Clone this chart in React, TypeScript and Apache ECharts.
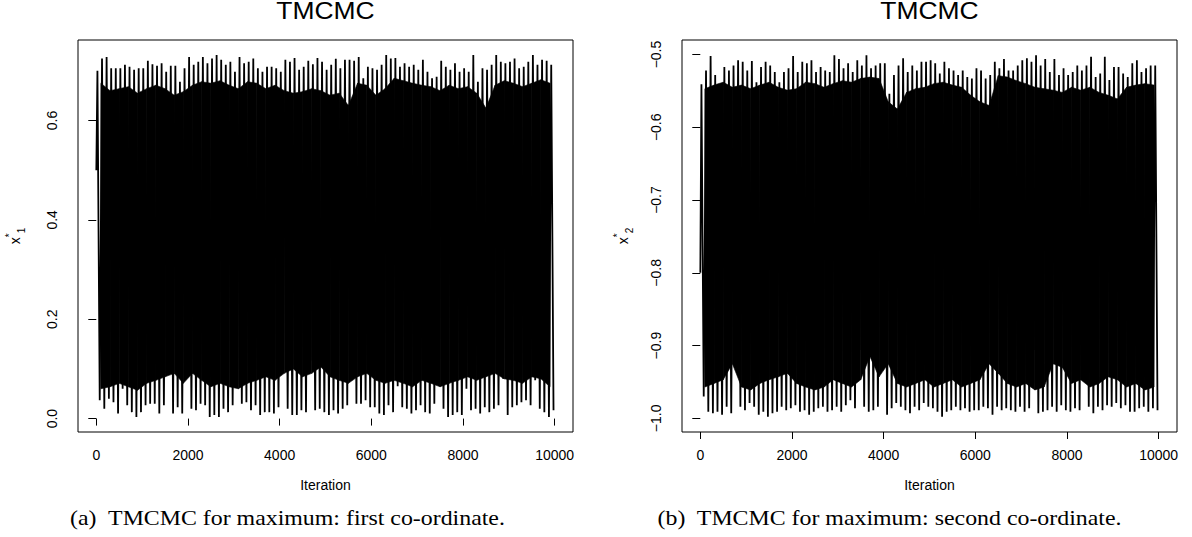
import { useEffect, useRef } from 'react';
import * as echarts from 'echarts';

// ---- data ----
const iterTicks = [0, 2000, 4000, 6000, 8000, 10000];
const leftYTicks = [0, 0.2, 0.4, 0.6];
const rightYTicks = [-1.0, -0.9, -0.8, -0.7, -0.6, -0.5];
const spikeBin = 100; // iterations per spike bin (upper / lower extremes)
const bodyBin = 200; // iterations per bin of the dense (solid) body

// first co-ordinate: starting value, per-bin upper spikes and lower spikes
const leftStart = 0.5;
const leftHigh = [
  0.700, 0.725, 0.728, 0.705, 0.705, 0.705, 0.712, 0.708, 0.702, 0.705,
  0.705, 0.720, 0.713, 0.710, 0.715, 0.698, 0.710, 0.710, 0.678, 0.705,
  0.728, 0.712, 0.718, 0.728, 0.715, 0.725, 0.732, 0.722, 0.712, 0.718,
  0.698, 0.728, 0.715, 0.718, 0.725, 0.705, 0.698, 0.708, 0.708, 0.705,
  0.698, 0.722, 0.718, 0.726, 0.702, 0.708, 0.720, 0.713, 0.726, 0.718,
  0.702, 0.712, 0.724, 0.705, 0.722, 0.722, 0.720, 0.728, 0.685, 0.708,
  0.705, 0.702, 0.712, 0.732, 0.725, 0.726, 0.708, 0.715, 0.708, 0.712,
  0.702, 0.722, 0.698, 0.685, 0.688, 0.720, 0.708, 0.702, 0.715, 0.698,
  0.705, 0.698, 0.732, 0.678, 0.705, 0.702, 0.712, 0.732, 0.718, 0.715,
  0.718, 0.725, 0.705, 0.708, 0.718, 0.732, 0.712, 0.722, 0.720, 0.712,
];
const leftLow = [
  0.037, 0.020, 0.040, 0.033, 0.010, 0.060, 0.027, 0.013, 0.003, 0.013,
  0.027, 0.030, 0.030, 0.010, 0.027, 0.091, 0.010, 0.023, 0.010, 0.097,
  0.020, 0.017, 0.030, 0.027, 0.003, 0.007, 0.003, 0.020, 0.013, 0.027,
  0.070, 0.030, 0.033, 0.017, 0.027, 0.007, 0.013, 0.013, 0.010, 0.023,
  0.107, 0.020, 0.007, 0.007, 0.017, 0.013, 0.117, 0.017, 0.020, 0.013,
  0.007, 0.017, 0.010, 0.020, 0.027, 0.084, 0.030, 0.030, 0.037, 0.023,
  0.023, 0.010, 0.007, 0.027, 0.013, 0.065, 0.023, 0.020, 0.010, 0.017,
  0.027, 0.013, 0.010, 0.030, 0.070, 0.020, 0.003, 0.007, 0.013, 0.007,
  0.060, 0.017, 0.020, 0.010, 0.023, 0.013, 0.020, 0.027, 0.080, 0.007,
  0.023, 0.027, 0.033, 0.037, 0.027, 0.077, 0.020, 0.013, 0.003, 0.017,
];
// upper and lower edges of the dense body of the first trace
const leftBodyTop = [
  0.675, 0.660, 0.664, 0.668, 0.655, 0.664, 0.671, 0.664, 0.651, 0.658,
  0.671, 0.678, 0.675, 0.680, 0.671, 0.664, 0.678, 0.675, 0.664, 0.671,
  0.660, 0.655, 0.658, 0.664, 0.660, 0.651, 0.655, 0.630, 0.675, 0.671,
  0.651, 0.664, 0.685, 0.680, 0.675, 0.671, 0.668, 0.660, 0.671, 0.664,
  0.668, 0.655, 0.625, 0.671, 0.680, 0.675, 0.668, 0.675, 0.682, 0.675,
];
const leftBodyBottom = [
  0.060, 0.064, 0.071, 0.064, 0.057, 0.071, 0.077, 0.084, 0.091, 0.071,
  0.091, 0.077, 0.064, 0.071, 0.064, 0.060, 0.071, 0.077, 0.084, 0.077,
  0.091, 0.100, 0.084, 0.091, 0.104, 0.084, 0.077, 0.071, 0.084, 0.091,
  0.077, 0.071, 0.077, 0.071, 0.064, 0.077, 0.071, 0.064, 0.071, 0.077,
  0.084, 0.077, 0.084, 0.091, 0.080, 0.077, 0.071, 0.084, 0.080, 0.064,
];

// second co-ordinate
const rightStart = -0.8;
const rightHigh = [
  -0.541, -0.522, -0.502, -0.528, -0.547, -0.517, -0.522, -0.515, -0.508, -0.510,
  -0.522, -0.509, -0.538, -0.517, -0.510, -0.515, -0.524, -0.538, -0.524, -0.519,
  -0.502, -0.524, -0.510, -0.512, -0.508, -0.524, -0.517, -0.522, -0.524, -0.501,
  -0.506, -0.519, -0.512, -0.524, -0.508, -0.515, -0.501, -0.519, -0.515, -0.512,
  -0.512, -0.554, -0.528, -0.515, -0.505, -0.524, -0.515, -0.522, -0.510, -0.510,
  -0.508, -0.512, -0.526, -0.510, -0.519, -0.522, -0.528, -0.522, -0.531, -0.533,
  -0.519, -0.522, -0.533, -0.528, -0.510, -0.519, -0.506, -0.522, -0.522, -0.515,
  -0.508, -0.505, -0.510, -0.501, -0.515, -0.506, -0.524, -0.506, -0.528, -0.519,
  -0.528, -0.524, -0.515, -0.522, -0.515, -0.503, -0.531, -0.526, -0.503, -0.535,
  -0.517, -0.517, -0.526, -0.531, -0.512, -0.508, -0.524, -0.519, -0.515, -0.515,
];
const rightLow = [
  -0.970, -0.991, -0.993, -0.991, -0.995, -0.984, -0.993, -0.911, -0.984, -0.989,
  -0.979, -0.984, -0.995, -0.991, -0.998, -0.993, -0.991, -0.984, -0.989, -0.986,
  -0.982, -0.991, -0.989, -0.995, -0.991, -0.986, -0.984, -0.991, -0.989, -0.984,
  -0.991, -0.982, -0.975, -0.986, -0.906, -0.984, -0.991, -0.989, -0.984, -0.931,
  -0.995, -0.986, -0.979, -0.984, -0.989, -0.993, -0.984, -0.989, -0.979, -0.984,
  -0.986, -0.991, -0.998, -0.991, -0.989, -0.984, -0.989, -0.986, -0.991, -0.989,
  -0.989, -0.984, -0.986, -0.995, -0.984, -0.989, -0.986, -0.989, -0.991, -0.984,
  -0.991, -0.986, -0.906, -0.993, -0.991, -0.989, -0.984, -0.991, -0.982, -0.989,
  -0.991, -0.986, -0.989, -0.940, -0.984, -0.993, -0.984, -0.989, -0.982, -0.984,
  -0.979, -0.986, -0.982, -0.991, -0.991, -0.986, -0.984, -0.991, -0.986, -0.989,
];
const rightBodyTop = [
  -0.547, -0.542, -0.538, -0.545, -0.542, -0.547, -0.542, -0.538, -0.545, -0.549,
  -0.547, -0.538, -0.540, -0.545, -0.540, -0.536, -0.538, -0.533, -0.531, -0.533,
  -0.565, -0.575, -0.552, -0.547, -0.545, -0.540, -0.538, -0.542, -0.545, -0.556,
  -0.565, -0.570, -0.529, -0.531, -0.536, -0.540, -0.545, -0.547, -0.549, -0.552,
  -0.545, -0.549, -0.545, -0.552, -0.556, -0.561, -0.545, -0.542, -0.540, -0.542,
];
const rightBodyBottom = [
  -0.957, -0.952, -0.947, -0.925, -0.957, -0.961, -0.952, -0.947, -0.943, -0.938,
  -0.952, -0.957, -0.961, -0.957, -0.947, -0.952, -0.957, -0.947, -0.915, -0.943,
  -0.925, -0.952, -0.957, -0.952, -0.947, -0.957, -0.952, -0.947, -0.957, -0.952,
  -0.947, -0.925, -0.938, -0.952, -0.957, -0.952, -0.961, -0.957, -0.925, -0.930,
  -0.952, -0.947, -0.957, -0.952, -0.943, -0.947, -0.957, -0.952, -0.961, -0.957,
];

const SANS = '"Liberation Sans", Arial, Helvetica, sans-serif';
const SERIF = '"Liberation Serif", "Times New Roman", serif';

function trace(start: number, hi: number[], lo: number[]) {
  const pts: number[][] = [[1, start]];
  for (let i = 0; i < hi.length; i++) {
    pts.push([i * spikeBin + 25, hi[i]]);
    pts.push([i * spikeBin + 75, lo[i]]);
  }
  return pts;
}

// body segments: [x0, top0, bottom0, x1, top1, bottom1]
function bodySegments(top: number[], bottom: number[]) {
  const rows: number[][] = [];
  for (let i = 0; i < top.length - 1; i++) {
    rows.push([i * bodyBin + bodyBin / 2, top[i], bottom[i], (i + 1) * bodyBin + bodyBin / 2, top[i + 1], bottom[i + 1]]);
  }
  return rows;
}

const fmt = (v: number) => (v < 0 ? '\u2212' : '') + Math.abs(v).toFixed(1);

function xAxisFor(gridIndex: number) {
  return {
    type: 'value',
    gridIndex,
    min: -399,
    max: 10400,
    axisLine: { show: false },
    splitLine: { show: false },
    axisTick: {
      show: true,
      inside: false,
      length: 7,
      customValues: iterTicks,
      lineStyle: { color: '#000', width: 1 },
    },
    axisLabel: {
      customValues: iterTicks,
      color: '#000',
      fontSize: 14,
      fontFamily: SANS,
      margin: 16,
      formatter: (v: number) => String(v),
    },
    name: 'Iteration',
    nameLocation: 'middle',
    nameGap: 46,
    nameTextStyle: { color: '#000', fontSize: 14, fontFamily: SANS },
  };
}

function yAxisFor(gridIndex: number, min: number, max: number, ticks: number[], sub: string, gap: number) {
  return {
    type: 'value',
    gridIndex,
    min,
    max,
    axisLine: { show: false },
    splitLine: { show: false },
    axisTick: {
      show: true,
      inside: false,
      length: 8,
      customValues: ticks,
      lineStyle: { color: '#000', width: 1 },
    },
    axisLabel: {
      customValues: ticks,
      rotate: 90,
      color: '#000',
      fontSize: 14,
      fontFamily: SANS,
      margin: 19,
      formatter: fmt,
    },
    name: '{x|x}{s|*}{b|' + sub + '}',
    nameLocation: 'middle',
    nameRotate: 90,
    nameGap: gap,
    nameTextStyle: {
      color: '#000',
      rich: {
        x: { fontSize: 14, fontFamily: SANS, lineHeight: 22, color: '#000' },
        s: { fontSize: 10, fontFamily: SANS, lineHeight: 12, verticalAlign: 'top', color: '#000' },
        b: { fontSize: 10, fontFamily: SANS, lineHeight: 12, verticalAlign: 'bottom', color: '#000' },
      },
    },
  };
}

function panelSeries(idx: number, start: number, hi: number[], lo: number[], top: number[], bottom: number[]) {
  return [
    {
      type: 'custom',
      xAxisIndex: idx,
      yAxisIndex: idx,
      data: bodySegments(top, bottom),
      encode: { x: [0, 3], y: [1, 2, 4, 5] },
      silent: true,
      z: 2,
      renderItem: (_params: any, api: any) => {
        const a = api.coord([api.value(0), api.value(1)]);
        const b = api.coord([api.value(3), api.value(4)]);
        const c = api.coord([api.value(3), api.value(5)]);
        const d = api.coord([api.value(0), api.value(2)]);
        return {
          type: 'polygon',
          shape: { points: [a, b, c, d] },
          style: { fill: '#000', stroke: '#000', lineWidth: 0.6 },
        };
      },
    },
    {
      type: 'line',
      xAxisIndex: idx,
      yAxisIndex: idx,
      data: trace(start, hi, lo),
      showSymbol: false,
      symbol: 'none',
      lineStyle: { color: '#000', width: 1.8, join: 'bevel' },
      silent: true,
      z: 3,
    },
  ];
}

export default function App() {
  const ref = useRef<HTMLDivElement>(null);

  useEffect(() => {
    if (!ref.current) return;
    const chart = echarts.init(ref.current, undefined, { renderer: 'svg' });
    chart.setOption({
      animation: false,
      backgroundColor: '#fff',
      grid: [
        { left: 78, top: 40, width: 495, height: 392, show: true, borderColor: '#000', borderWidth: 1, backgroundColor: 'transparent' },
        { left: 682, top: 40, width: 495, height: 392, show: true, borderColor: '#000', borderWidth: 1, backgroundColor: 'transparent' },
      ],
      xAxis: [xAxisFor(0), xAxisFor(1)],
      yAxis: [
        yAxisFor(0, -0.027, 0.762, leftYTicks, '1', 52),
        yAxisFor(1, -1.0188, -0.48, rightYTicks, '2', 48),
      ],
      series: [
        ...panelSeries(0, leftStart, leftHigh, leftLow, leftBodyTop, leftBodyBottom),
        ...panelSeries(1, rightStart, rightHigh, rightLow, rightBodyTop, rightBodyBottom),
      ],
      graphic: [
        { type: 'text', x: 325.5, y: 0, scaleX: 1.15, style: { text: 'TMCMC', font: '23px ' + SANS, fill: '#000', textAlign: 'center', textVerticalAlign: 'top' } },
        { type: 'text', x: 929.5, y: 0, scaleX: 1.15, style: { text: 'TMCMC', font: '23px ' + SANS, fill: '#000', textAlign: 'center', textVerticalAlign: 'top' } },
        { type: 'text', x: 287.5, y: 518, scaleX: 1.11, style: { text: '(a)  TMCMC for maximum: first co-ordinate.', font: '21.5px ' + SERIF, fill: '#000', textAlign: 'center', textVerticalAlign: 'middle' } },
        { type: 'text', x: 889.5, y: 518, scaleX: 1.11, style: { text: '(b)  TMCMC for maximum: second co-ordinate.', font: '21.5px ' + SERIF, fill: '#000', textAlign: 'center', textVerticalAlign: 'middle' } },
      ],
    });
    return () => chart.dispose();
  }, []);

  return (
    <div
      ref={ref}
      style={{ position: 'fixed', left: 0, top: 0, width: 1192, height: 537, background: '#fff' }}
    />
  );
}
